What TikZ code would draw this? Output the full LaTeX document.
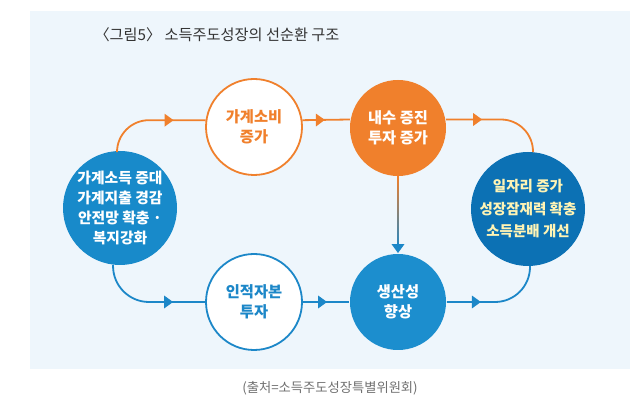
\documentclass[tikz,border=0pt]{standalone}
\usepackage{fontspec}
\setmainfont{Noto Sans CJK KR}
\usepackage{tikz}
\usetikzlibrary{arrows.meta,calc,decorations.markings}
\definecolor{panelbg}{HTML}{EEF6FC}
\definecolor{orangeline}{HTML}{F0802C}
\definecolor{blueline}{HTML}{1C87C8}
\definecolor{leftblue}{HTML}{188ACA}
\definecolor{midblue}{HTML}{1C8ECE}
\definecolor{darkblue}{HTML}{0C71B4}
\definecolor{paleyellow}{HTML}{FFF4B5}
\definecolor{titlegray}{HTML}{333333}
\definecolor{sourcegray}{HTML}{707070}
\tikzset{
  >={Triangle[length=9pt,width=12.5pt]},
  midarrow/.style={
    postaction={decorate},
    decoration={markings, mark=at position #1 with {\arrow{Triangle[length=9pt,width=12.5pt]}}}
  },
  oline/.style={draw=orangeline, line width=1.8pt},
  bline/.style={draw=blueline, line width=1.8pt},
  bigcirc/.style={
    circle,
    minimum size=114pt,
    inner sep=0pt,
    align=center,
    font=\bfseries\fontsize{14.8}{20.3}\selectfont
  },
  smallcirc/.style={
    circle,
    minimum size=96pt,
    inner sep=0pt,
    line width=1.8pt,
    align=center,
    font=\bfseries\fontsize{15.3}{20}\selectfont
  }
}

\begin{document}
\begin{tikzpicture}[x=1pt,y=1pt]
  \path[use as bounding box] (0,0) rectangle (644,406);
  \fill[panelbg] (30,37) rectangle (630,395);

  \node[anchor=west, text=titlegray, font=\fontsize{15.2}{17}\selectfont] (title) at (91,371)
    {〈그림5〉 소득주도성장의 선순환 구조};
  \node[text=sourcegray, font=\fontsize{13.3}{15}\selectfont] (source) at (330,18)
    {(출처=소득주도성장특별위원회)};

  \node[bigcirc, fill=leftblue, text=white] (income) at (120,198)
    {가계소득 증대\\가계지출 경감\\안전망 확충 ·\\복지강화};
  \node[smallcirc, draw=orangeline, fill=white, text=orangeline] (spend) at (254,279)
    {가계소비\\증가};
  \node[smallcirc, fill=orangeline, text=white] (invest) at (398,278)
    {내수 증진\\투자 증가};
  \node[smallcirc, draw=blueline, fill=white, text=blueline] (human) at (254,104)
    {인적자본\\투자};
  \node[smallcirc, fill=midblue, text=white] (prod) at (398,104)
    {생산성\\향상};
  \node[bigcirc, fill=darkblue, text=paleyellow,
    font=\bfseries\fontsize{14.5}{22.5}\selectfont] (jobs) at (528,197)
    {일자리 증가\\성장잠재력 확충\\소득분배 개선};

  \draw[oline, rounded corners=32pt, midarrow=-32pt] (income.93) |- (spend.172);
  \draw[oline, midarrow=-25pt] (spend.8) -- (invest.170);
  \draw[oline, rounded corners=32pt, midarrow=36pt] (invest.10) -| (jobs.85);

  \draw[bline, rounded corners=36pt, midarrow=-32pt] (income.263) |- (human.west);
  \draw[bline, midarrow=-22pt] (human.east) -- (prod.west);
  \draw[bline, rounded corners=35pt, midarrow=34pt] (prod.east) -| (jobs.272);

  \shade[top color=orangeline, bottom color=blueline]
    ($(invest.south)+(-0.9,0)$) rectangle ($(prod.north)+(0.9,4)$);
  \draw[bline, ->] ($(prod.north)+(0,10)$) -- (prod.north);
\end{tikzpicture}
\end{document}
